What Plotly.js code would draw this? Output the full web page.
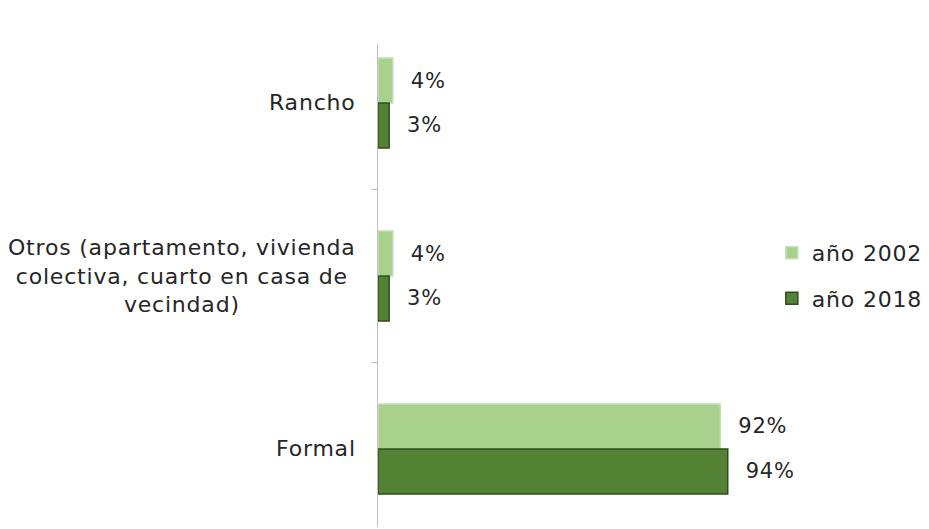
<!DOCTYPE html>
<html>
<head>
<meta charset="utf-8">
<script src="https://cdn.plot.ly/plotly-3.0.1.min.js"></script>
<style>html,body{margin:0;padding:0;background:#fff;}#chart{width:929px;height:529px;} text{letter-spacing:0.8px;}</style>
</head>
<body>
<div id="chart"></div>
<script>
const categories = ["Rancho", "Otros", "Formal"];
const categoryLabels = ["Rancho", "Otros (apartamento, vivienda<br>colectiva, cuarto en casa de<br>vecindad)", "Formal"];
const seriesNames = ["año 2002", "año 2018"];
const values2002 = [4, 4, 92];
const values2018 = [3, 3, 94];

const FONT = "DejaVu Sans, sans-serif";
const TXT = "#262626";
const pad = "\u00a0\u00a0";

const traces = [
  {
    type: "bar", orientation: "h", name: seriesNames[0],
    x: values2002, y: categories,
    marker: {color: "#a9d18e", line: {color: "#c5e0b4", width: 1.5}},
    text: values2002.map(v => pad + v + "%"),
    textposition: "outside", cliponaxis: false,
    textfont: {family: FONT, size: 21, color: TXT},
    legendgroup: "a", hoverinfo: "x+y"
  },
  {
    type: "bar", orientation: "h", name: seriesNames[1],
    x: values2018, y: categories,
    marker: {color: "#548235", line: {color: "#2e4d1a", width: 1.5}},
    text: values2018.map(v => pad + v + "%"),
    textposition: "outside", cliponaxis: false,
    textfont: {family: FONT, size: 21, color: TXT},
    legendgroup: "b", hoverinfo: "x+y"
  }
];

const annotations = categories.map((c, i) => ({
  x: 0, xref: "paper", xanchor: "right", xshift: -20,
  y: c, yref: "y", yanchor: "middle",
  text: categoryLabels[i], showarrow: false, align: "center",
  font: {family: FONT, size: 22, color: TXT}
}));

const layout = {
  width: 929, height: 529,
  margin: {l: 378, r: 169, t: 44, b: 2},
  paper_bgcolor: "#fff", plot_bgcolor: "#fff",
  barmode: "group", bargap: 0.48, bargroupgap: 0,
  font: {family: FONT, size: 22, color: TXT},
  xaxis: {range: [0, 102.4], showgrid: false, zeroline: false, showticklabels: false, showline: false, ticks: ""},
  yaxis: {
    type: "category", categoryorder: "array", categoryarray: categories,
    range: [2.451, -0.341], showgrid: false, zeroline: false,
    showline: true, linecolor: "#bfbfbf", linewidth: 1,
    ticks: "outside", tickson: "boundaries", ticklen: 6, tickcolor: "#bfbfbf",
    showticklabels: false
  },
  showlegend: true,
  legend: {
    x: 1.031, xanchor: "left", y: 0.52, yanchor: "middle",
    traceorder: "grouped", tracegroupgap: 14,
    font: {family: FONT, size: 22, color: TXT}, bgcolor: "rgba(0,0,0,0)"
  },
  annotations: annotations
};

Plotly.newPlot("chart", traces, layout, {displayModeBar: false, staticPlot: true});
</script>
</body>
</html>
